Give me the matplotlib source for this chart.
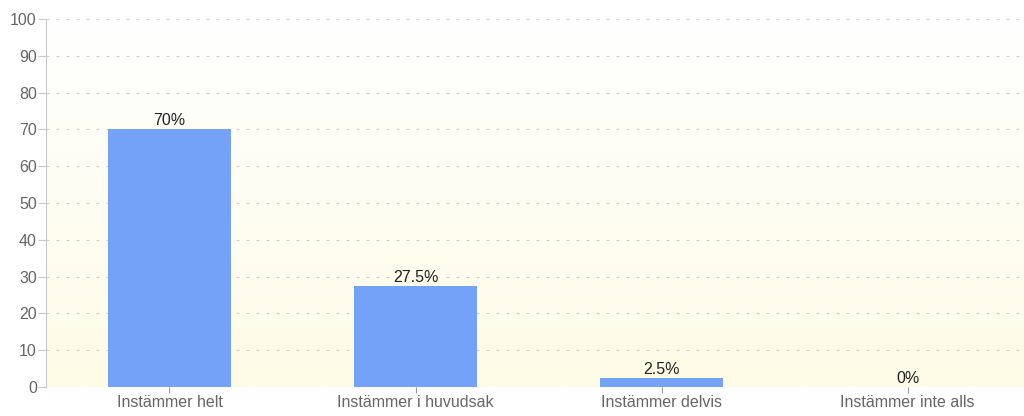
import numpy as np
import matplotlib.pyplot as plt
from matplotlib.colors import LinearSegmentedColormap

categories = ["Instämmer helt", "Instämmer i huvudsak", "Instämmer delvis", "Instämmer inte alls"]
values = [70, 27.5, 2.5, 0]
labels = ["70%", "27.5%", "2.5%", "0%"]
yticks = [0, 10, 20, 30, 40, 50, 60, 70, 80, 90, 100]

plt.rcParams['font.family'] = ['Liberation Sans', 'DejaVu Sans']

fig = plt.figure(figsize=(10.24, 4.16), dpi=100)
# plot area runs a little past the right edge, like the original
ax = fig.add_axes([0.0454, 0.0697, 0.961, 0.8843])

# background gradient, white at the top to pale yellow at the bottom
cmap = LinearSegmentedColormap.from_list("bg", ["#fefce6", "#ffffff"])
grad = np.linspace(0, 1, 256).reshape(-1, 1)
ax.imshow(grad, aspect="auto", cmap=cmap, origin="lower",
          extent=[-0.5, len(categories) - 0.5, 0, 100], zorder=0)

x = np.arange(len(categories))
ax.bar(x, values, width=0.5, color="#74a2f8", zorder=2)
for xi, v, lab in zip(x, values, labels):
    ax.text(xi, v + 0.3, lab, ha="center", va="bottom", fontsize=11.5, color="#222222", zorder=3)

ax.set_xlim(-0.5, len(categories) - 0.5)
ax.set_ylim(0, 100)
ax.set_yticks(yticks)
ax.set_xticks(x)
ax.set_xticklabels(categories)
ax.yaxis.grid(True, linestyle=(0, (2.7, 6.3)), color="#d0d0d0", linewidth=0.8, zorder=1)
ax.set_axisbelow(True)

for s in ["top", "right", "bottom"]:
    ax.spines[s].set_visible(False)
ax.spines["left"].set_color("#c8c8c8")
ax.axhline(0, color="#b8b8b8", linestyle=(0, (2.7, 2.7)), linewidth=0.8, zorder=1)

ax.tick_params(axis="y", colors="#c8c8c8", labelcolor="#666666", labelsize=11.5, length=6, pad=1)
ax.tick_params(axis="x", colors="#999999", labelcolor="#666666", labelsize=11.5, length=4, pad=2)

fig.savefig("out.png", dpi=100)
